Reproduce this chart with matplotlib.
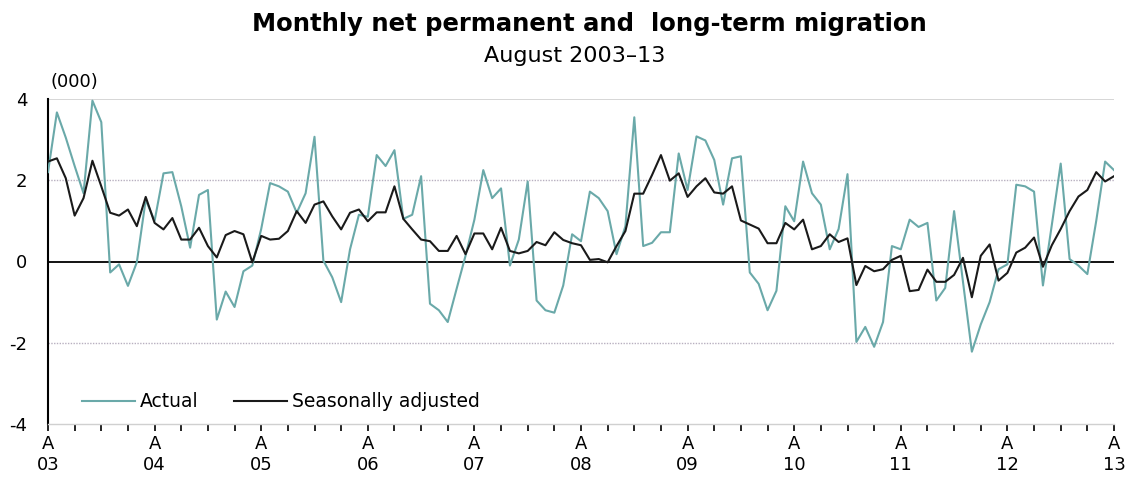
import matplotlib
matplotlib.use("Agg")
import matplotlib.pyplot as plt
import numpy as np

plt.rcParams['font.family'] = ['DejaVu Sans']

# Monthly values, August 2003 .. August 2013 (thousands)
actual = [
    2.2, 3.67, 3.05, 2.35, 1.68, 3.96, 3.43, -0.27, -0.07, -0.6, -0.02, 1.52,
    1.0, 2.17, 2.2, 1.36, 0.34, 1.64, 1.76, -1.43, -0.74, -1.12, -0.24, -0.1,
    0.8, 1.93, 1.85, 1.72, 1.2, 1.68, 3.07, 0.02, -0.39, -1.0, 0.3, 1.15,
    1.1, 2.62, 2.35, 2.74, 1.05, 1.15, 2.1, -1.04, -1.2, -1.49, -0.67, 0.14,
    1.03, 2.25, 1.56, 1.8, -0.1, 0.54, 1.97, -0.96, -1.2, -1.26, -0.59, 0.67,
    0.5, 1.72, 1.56, 1.24, 0.18, 0.87, 3.55, 0.38, 0.46, 0.72, 0.72, 2.66,
    1.76, 3.08, 2.98, 2.5, 1.4, 2.54, 2.59, -0.27, -0.55, -1.2, -0.72, 1.36,
    0.99, 2.46, 1.68, 1.4, 0.3, 0.8, 2.15, -1.98, -1.61, -2.1, -1.49, 0.38,
    0.3, 1.03, 0.85, 0.95, -0.96, -0.65, 1.24, -0.5, -2.22, -1.55, -1.0, -0.19,
    -0.07, 1.89, 1.85, 1.72, -0.59, 0.9, 2.41, 0.06, -0.1, -0.31, 1.0, 2.46,
    2.25,
]
seasonally_adjusted = [
    2.46, 2.54, 2.05, 1.13, 1.56, 2.48, 1.85, 1.2, 1.13, 1.28, 0.87, 1.59,
    0.95, 0.79, 1.07, 0.54, 0.54, 0.83, 0.38, 0.1, 0.65, 0.75, 0.67, -0.02,
    0.63, 0.54, 0.56, 0.75, 1.24, 0.95, 1.4, 1.48, 1.11, 0.79, 1.2, 1.28,
    0.99, 1.21, 1.21, 1.85, 1.05, 0.79, 0.54, 0.5, 0.26, 0.26, 0.63, 0.18,
    0.69, 0.69, 0.3, 0.83, 0.26, 0.2, 0.26, 0.48, 0.4, 0.72, 0.53, 0.45,
    0.4, 0.04, 0.06, -0.02, 0.38, 0.75, 1.67, 1.67, 2.13, 2.62, 1.99, 2.17,
    1.59, 1.85, 2.05, 1.7, 1.67, 1.85, 1.01, 0.91, 0.81, 0.45, 0.45, 0.95,
    0.79, 1.03, 0.3, 0.38, 0.67, 0.48, 0.57, -0.58, -0.11, -0.24, -0.19, 0.04,
    0.14, -0.73, -0.7, -0.2, -0.5, -0.5, -0.33, 0.09, -0.88, 0.14, 0.42, -0.47,
    -0.28, 0.22, 0.34, 0.59, -0.13, 0.4, 0.8, 1.24, 1.6, 1.76, 2.2, 1.97,
    2.1,
]
year_labels = ['03', '04', '05', '06', '07', '08', '09', '10', '11', '12', '13']
y_ticks = [4, 2, 0, -2, -4]
y_tick_labels = ['4', '2', '0', '-2', '-4']

x = np.arange(len(actual))

fig = plt.figure(figsize=(11.27, 4.83), dpi=100)
ax = fig.add_axes([48 / 1127, 1 - 424 / 483, (1114 - 48) / 1127, (424 - 99) / 483])

# gridlines
ax.axhline(4, color='#d0d0d0', lw=1.2, zorder=1)
for g in (2, -2):
    ax.axhline(g, color='#b8b0c0', lw=1.0, ls=(0, (1, 1)), zorder=1)
ax.axhline(0, color='black', lw=1.3, zorder=2)

teal = '#6aa9a9'
ax.plot(x, actual, color=teal, lw=1.5, label='Actual', zorder=3)
ax.plot(x, seasonally_adjusted, color='#1a1a1a', lw=1.5, label='Seasonally adjusted', zorder=4)

ax.set_xlim(0, len(actual) - 1)
ax.set_ylim(-4, 4)

ax.set_yticks(y_ticks)
ax.set_yticklabels(y_tick_labels, fontsize=13)
ax.tick_params(axis='y', length=0, pad=15)

major = np.arange(0, len(actual), 12)
ax.set_xticks(major)
ax.set_xticklabels(['A\n' + y for y in year_labels], fontsize=13, linespacing=1.2)
ax.set_xticks(np.arange(0, len(actual), 3), minor=True)
ax.tick_params(axis='x', which='both', length=5, width=1.2, color='black', direction='out', pad=3)

for s in ('top', 'right'):
    ax.spines[s].set_visible(False)
ax.spines['left'].set_color('black')
ax.spines['left'].set_linewidth(1.5)
ax.spines['bottom'].set_color('#d0d0d0')
ax.spines['bottom'].set_linewidth(1.0)

leg = ax.legend(loc='center left', bbox_to_anchor=(0.032, 0.068), ncol=2, frameon=False,
                fontsize=13.5, handlelength=2.8, handletextpad=0.28, columnspacing=1.9,
                borderpad=0, borderaxespad=0)

ax.text(0.002, 1.025, '(000)', transform=ax.transAxes, fontsize=13, ha='left', va='bottom')

fig.text(589 / 1127, 1 - 24 / 483, 'Monthly net permanent and  long-term migration',
         ha='center', va='center', fontsize=17.5, fontweight='bold')
fig.text(575 / 1127, 1 - 56 / 483, 'August 2003\u201313', ha='center', va='center', fontsize=16)

fig.savefig('out.png', dpi=100)
